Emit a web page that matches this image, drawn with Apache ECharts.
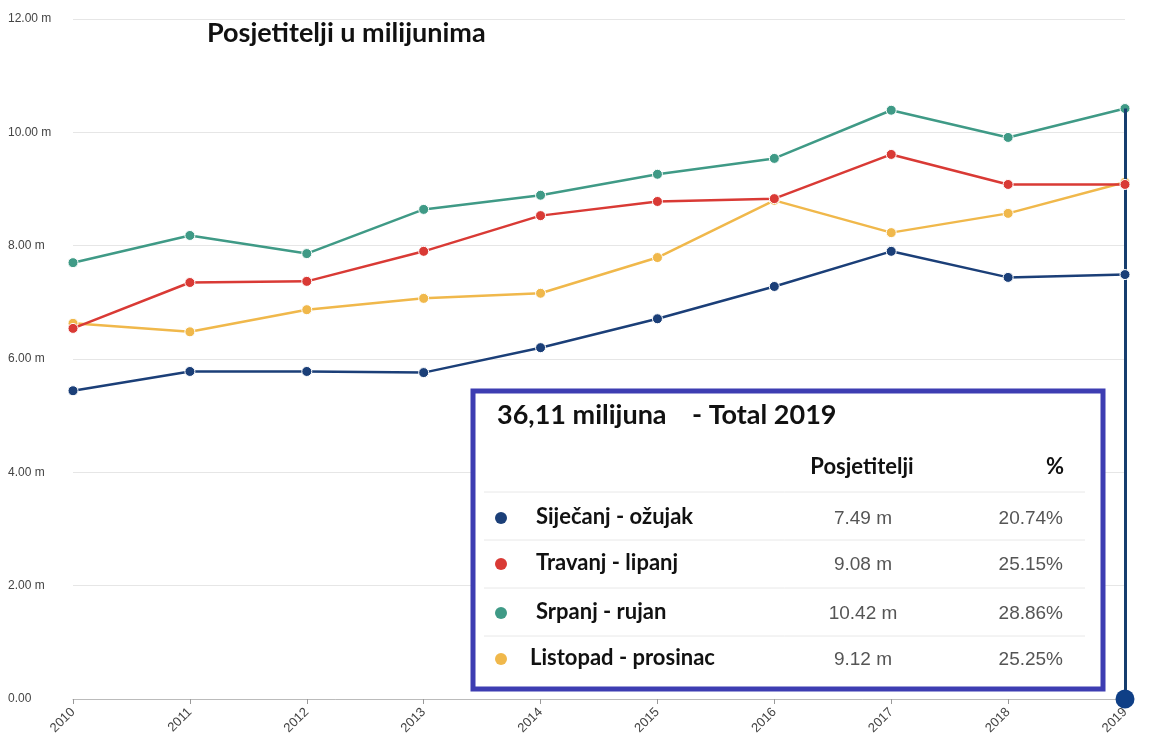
<!DOCTYPE html>
<html><head><meta charset="utf-8">
<script src="https://cdn.jsdelivr.net/npm/echarts@6/dist/echarts.min.js"></script>
<style>html,body{margin:0;padding:0;background:#fff}#c{width:1156px;height:742px}</style>
</head><body><div id="c"></div>
<script>
const years = ['2010','2011','2012','2013','2014','2015','2016','2017','2018','2019'];
const seriesNames = ['Siječanj - ožujak','Travanj - lipanj','Srpanj - rujan','Listopad - prosinac'];
const q1 = [5.44,5.78,5.78,5.76,6.20,6.71,7.28,7.90,7.44,7.49];
const q2 = [6.54,7.35,7.37,7.90,8.53,8.78,8.83,9.61,9.08,9.08];
const q3 = [7.70,8.18,7.86,8.64,8.89,9.26,9.54,10.39,9.91,10.42];
const q4 = [6.63,6.48,6.87,7.07,7.16,7.79,8.80,8.23,8.57,9.12];
const colors = ['#1b3f78','#d93a35','#3f9a86','#f0b84b'];
const yTicks = [0,2,4,6,8,10,12];
const title = 'Posjetitelji u milijunima';
const boxTitleA = '36,11 milijuna';
const boxTitleB = '- Total 2019';
const tableHeader = ['Posjetitelji','%'];
const tableValues = ['7.49 m','9.08 m','10.42 m','9.12 m'];
const tablePct = ['20.74%','25.15%','28.86%','25.25%'];

const chart = echarts.init(document.getElementById('c'));
const allData = [q1,q2,q3,q4];
const zOrder = [6,5,4,3];
const lastYear = years[years.length-1];
const series = allData.map((d,i)=>({
  name: seriesNames[i], type:'line', data:d, symbol:'circle', symbolSize:10,
  lineStyle:{width:2.5,color:colors[i]},
  itemStyle:{color:colors[i],borderColor:'#fff',borderWidth:1},
  z: zOrder[i]
}));
series.push({
  type:'line', data:[], silent:true,
  markLine:{
    silent:true, symbol:'none',
    lineStyle:{color:'#163d6e',width:3,type:'solid'},
    label:{show:false},
    data:[[{coord:[lastYear,0]},{coord:[lastYear,q3[q3.length-1]]}]]
  },
  z:10
});
series.push({
  type:'scatter', data:[[lastYear,0]], symbol:'circle', symbolSize:19, clip:false,
  itemStyle:{color:'#0f3f86',opacity:1}, z:11, silent:true
});

const rowY = [517,563,612,658];
const graphics = [
  {type:'text',left:207,top:20,style:{text:title,font:'bold 27px Lato, "Open Sans", sans-serif',fill:'#111'}},
  {type:'rect',shape:{x:473,y:391,width:630,height:298},style:{fill:'#fff',stroke:'#3d3db2',lineWidth:5},z:20},
  {type:'text',left:497,top:402,style:{text:boxTitleA,font:'bold 27px Lato, sans-serif',fill:'#111'},z:21},
  {type:'text',left:692,top:402,style:{text:boxTitleB,font:'bold 27px Lato, sans-serif',fill:'#111'},z:21},
  {type:'text',x:862,y:467,style:{text:tableHeader[0],font:'bold 22px Lato, sans-serif',fill:'#111',align:'center',verticalAlign:'middle'},z:21},
  {type:'text',x:1055,y:467,style:{text:tableHeader[1],font:'bold 22px Lato, sans-serif',fill:'#111',align:'center',verticalAlign:'middle'},z:21}
];
[492,540,588,636].forEach(y=>graphics.push({type:'line',shape:{x1:484,y1:y,x2:1085,y2:y},style:{stroke:'#e8e8e8',lineWidth:1},z:21}));
seriesNames.forEach((n,i)=>{
  const y=rowY[i];
  graphics.push({type:'circle',shape:{cx:501,cy:y+1,r:6},style:{fill:colors[i]},z:21});
  graphics.push({type:'text',x:i===3?530:536,y:y,style:{text:n,font:'bold 22px Lato, sans-serif',fill:'#111',verticalAlign:'middle'},z:21});
  graphics.push({type:'text',x:863,y:y+2,style:{text:tableValues[i],font:'19px "Liberation Sans", Arial, sans-serif',fill:'#555',align:'center',verticalAlign:'middle'},z:21});
  graphics.push({type:'text',x:1063,y:y+2,style:{text:tablePct[i],font:'19px "Liberation Sans", Arial, sans-serif',fill:'#555',align:'right',verticalAlign:'middle'},z:21});
});

chart.setOption({
  animation:false,
  grid:{left:73,right:31,top:19,bottom:43},
  xAxis:{type:'category',data:years,boundaryGap:false,
    axisLine:{lineStyle:{color:'#bbb'}},
    axisTick:{show:true,length:5,lineStyle:{color:'#999'}},
    axisLabel:{rotate:45,color:'#444',fontSize:13,margin:11,fontFamily:'Liberation Sans, Arial'}
  },
  yAxis:{type:'value',min:yTicks[0],max:yTicks[yTicks.length-1],interval:2,
    axisLine:{show:false},axisTick:{show:false},
    splitLine:{lineStyle:{color:'#e6e6e6'}},
    axisLabel:{align:'left',margin:65,color:'#444',fontSize:12,fontFamily:'Liberation Sans, Arial',
      formatter:v=>v===0?'0.00':v.toFixed(2)+' m'}
  },
  series:series,
  graphic:graphics
});
</script></body></html>
